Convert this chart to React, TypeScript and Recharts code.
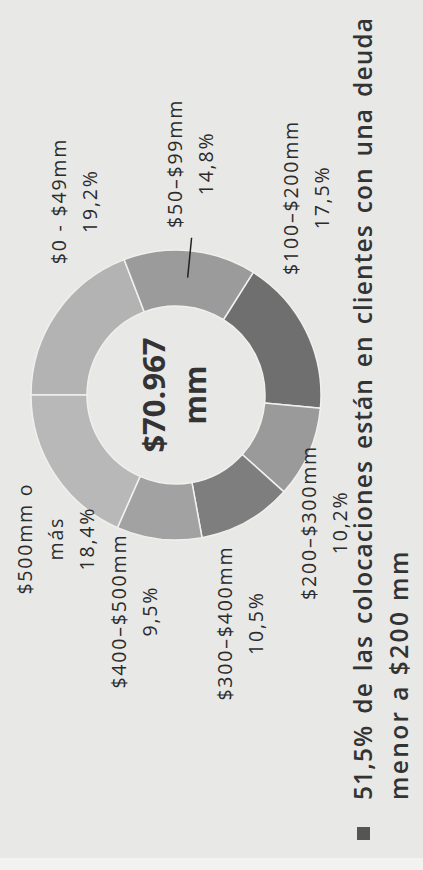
import React from 'react';
import { PieChart, Pie, Cell } from 'recharts';

// debt ranges and their share of total loans
const categories = ['$0 - $49mm', '$50–$99mm', '$100–$200mm', '$200–$300mm', '$300–$400mm', '$400–$500mm', '$500mm o\nmás'];
const shares = [19.2, 14.8, 17.5, 10.2, 10.5, 9.5, 18.4];
const totalLabel = '$70.967';
const totalUnit = 'mm';
const noteLines = ['51,5% de las colocaciones están en clientes con una deuda', 'menor a $200 mm'];

const sliceColors = ['#b3b3b3', '#9b9b9b', '#6f6f6f', '#9a9a9a', '#7e7e7e', '#a2a2a2', '#b8b8b8'];

// label placement: angle shift from the slice mid angle, and distance from the centre
const labelShift = [-27.8, 2, 30.2, -17, -13.5, -4, 17.1];
const labelRadius = [219, 232, 237, 196, 237, 220, 187];

const W = 870;
const H = 423;
const RAD = Math.PI / 180;
const FONT = '"Open Sans", "Noto Sans", sans-serif';

const data = categories.map((name, i) => ({ name, value: shares[i] }));

const fmtPct = (v: number) => v.toFixed(1).replace('.', ',') + '%';

function renderLabel(props: any) {
  const { cx, cy, midAngle, index, innerRadius, outerRadius } = props;
  const a = (midAngle + labelShift[index]) * RAD;
  const x = cx + labelRadius[index] * Math.cos(a);
  const y = cy - labelRadius[index] * Math.sin(a);
  const lines = [...categories[index].split('\n'), fmtPct(shares[index])];
  const step = 31;
  const m = midAngle * RAD;

  return (
    <g key={`lbl-${index}`}>
      {lines.map((t, i) => (
        <text
          key={i}
          x={x}
          y={y + (i - (lines.length - 1) / 2) * step + 7}
          textAnchor="middle"
          fontFamily={FONT}
          fontSize={19.5}
          letterSpacing={1.8}
          fill="#2b2b2b"
        >
          {t}
        </text>
      ))}
      {index === 1 && (
        <line
          x1={cx + (innerRadius + 29) * Math.cos(m)}
          y1={cy - (innerRadius + 29) * Math.sin(m)}
          x2={cx + (outerRadius + 13) * Math.cos(m)}
          y2={cy - (outerRadius + 13) * Math.sin(m)}
          stroke="#222"
          strokeWidth={1.5}
        />
      )}
      {index === 0 && (
        <g>
          <text x={cx} y={cy - 11} textAnchor="middle" fontFamily={FONT} fontWeight={700} fontSize={31} fill="#333">
            {totalLabel}
          </text>
          <text x={cx} y={cy + 30} textAnchor="middle" fontFamily={FONT} fontWeight={700} fontSize={30} fill="#333">
            {totalUnit}
          </text>
        </g>
      )}
    </g>
  );
}

export default function App() {
  return (
    <div style={{ position: 'fixed', left: 0, top: 0, width: H, height: W, overflow: 'hidden', background: '#e8e8e6' }}>
      <div
        style={{
          position: 'absolute',
          left: 0,
          top: 0,
          width: W,
          height: H,
          transformOrigin: '0 0',
          transform: `translateY(${W}px) rotate(-90deg)`,
        }}
      >
        <div style={{ position: 'absolute', left: 0, top: 0, width: 12, height: H, background: '#f2f2f1' }} />
        <PieChart width={W} height={H} margin={{ top: 0, right: 0, bottom: 0, left: 0 }}>
          <Pie
            data={data}
            dataKey="value"
            nameKey="name"
            cx={475}
            cy={176}
            innerRadius={89}
            outerRadius={145}
            startAngle={90}
            endAngle={-270}
            stroke="#f0f0ee"
            strokeWidth={1.5}
            label={renderLabel}
            labelLine={false}
            isAnimationActive={false}
          >
            {data.map((d, i) => (
              <Cell key={`cell-${i}`} fill={sliceColors[i]} />
            ))}
          </Pie>
        </PieChart>
        <div style={{ position: 'absolute', left: 30, top: 357, width: 13, height: 13, background: '#555' }} />
        {noteLines.map((t, i) => (
          <div
            key={i}
            style={{
              position: 'absolute',
              left: 70,
              top: 345 + i * 36,
              width: 783,
              height: 36,
              lineHeight: '36px',
              fontFamily: FONT,
              fontWeight: 600,
              fontSize: 24.5,
              letterSpacing: i === 0 ? 1.1 : 2.4,
              color: '#333',
              whiteSpace: 'nowrap',
              textAlign: i === 0 ? 'justify' : 'left',
              textAlignLast: i === 0 ? 'justify' : 'left',
            }}
          >
            {t}
          </div>
        ))}
      </div>
    </div>
  );
}
